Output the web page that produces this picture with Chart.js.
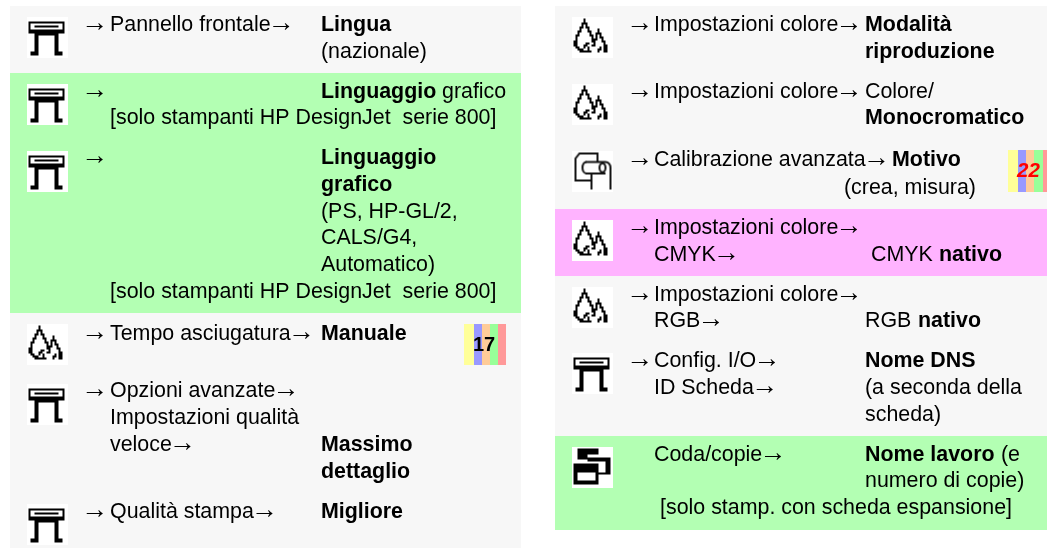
<!DOCTYPE html>
<html>
<head>
<meta charset="utf-8">
<title>Pannello frontale</title>
<script src="https://cdn.jsdelivr.net/npm/chart.js@4"></script>
<style>
  html, body { margin: 0; padding: 0; background: #fff; }
  #wrap { width: 1047px; height: 548px; }
</style>
</head>
<body>
<div id="wrap"><canvas id="page"></canvas></div>
<script>
// sfondi delle righe
const bandLeft = [10, 10, 10, 555, 555, 555, 555];
const bandRight = [521, 521, 521, 1047, 1047, 1047, 1047];
const bandTop = [6, 73, 313, 6, 209, 276, 436];
const bandBottom = [73, 313, 548, 209, 276, 436, 530];
const bandColor = ["#f7f7f7", "#b3ffb3", "#f7f7f7", "#f7f7f7", "#ffb3ff", "#f7f7f7", "#b3ffb3"];

// tacche colorate (17 e 22)
const swatchColors = ["#ffff99", "#9999ff", "#ffcc99", "#99ff99", "#ff9999"];
const swatch17Edges = [464, 474, 482, 490, 498, 506];
const swatch22Edges = [1008, 1018, 1026, 1034, 1043, 1047];
const swatch17Range = [324, 365];
const swatch22Range = [150, 192];

// icone
const iconKind = ["printer", "printer", "printer", "drops", "printer", "printer",
  "drops", "drops", "calib", "drops", "dropsSoft", "printer", "queue"];
const iconX = [47, 47, 47, 47, 47, 47, 592, 592, 592, 592, 592, 592, 592];
const iconY = [37, 104, 171, 344, 404, 524, 37, 104, 171, 240, 307, 373, 467];

// testi
const labelText = [
  "→", "Pannello frontale→", "Lingua", "(nazionale)",
  "→", "Linguaggio", "grafico", "[solo stampanti HP DesignJet  serie 800]",
  "→", "Linguaggio", "grafico", "(PS, HP-GL/2,", "CALS/G4,", "Automatico)", "[solo stampanti HP DesignJet  serie 800]",
  "→", "Tempo asciugatura→", "Manuale",
  "→", "Opzioni avanzate→", "Impostazioni qualità", "veloce→", "Massimo", "dettaglio",
  "→", "Qualità stampa→", "Migliore",
  "→", "Impostazioni colore→", "Modalità", "riproduzione",
  "→", "Impostazioni colore→", "Colore/", "Monocromatico",
  "→", "Calibrazione avanzata→", "Motivo", "(crea, misura)",
  "→", "Impostazioni colore→", "CMYK→", "CMYK", "nativo",
  "→", "Impostazioni colore→", "RGB→", "RGB", "nativo",
  "→", "Config. I/O→", "ID Scheda→", "Nome DNS", "(a seconda della", "scheda)",
  "Coda/copie→", "Nome lavoro", "(e", "numero di copie)", "[solo stamp. con scheda espansione]"
];
const labelX = [
  84, 110, 321, 321,
  84, 321, 442, 110,
  84, 321, 321, 321, 321, 321, 110,
  84, 110, 321,
  84, 110, 110, 110, 321, 321,
  84, 110, 321,
  629, 654, 865, 865,
  629, 654, 865, 865,
  629, 654, 892, 844,
  629, 654, 654, 871, 939,
  629, 654, 654, 865, 918,
  629, 654, 654, 865, 865, 865,
  654, 865, 1001, 865, 660
];
const labelY = [
  31, 31, 31, 58,
  98, 98, 98, 124,
  164, 164, 191, 218, 244, 271, 298,
  340, 340, 340,
  397, 397, 424, 451, 451, 478,
  518, 518, 518,
  31, 31, 31, 58,
  98, 98, 98, 124,
  166, 166, 166, 194,
  234, 234, 261, 261, 261,
  301, 301, 327, 327, 327,
  367, 367, 394, 367, 394, 421,
  461, 461, 461, 487, 514
];
const labelBold = [
  0, 0, 1, 0,
  0, 1, 0, 0,
  0, 1, 1, 0, 0, 0, 0,
  0, 0, 1,
  0, 0, 0, 0, 1, 1,
  0, 0, 1,
  0, 0, 1, 1,
  0, 0, 0, 1,
  0, 0, 1, 0,
  0, 0, 0, 0, 1,
  0, 0, 0, 0, 1,
  0, 0, 0, 1, 0, 0,
  0, 1, 0, 0, 0
];

const printerBits = [
  "##################",
  "#................#",
  "#..############..#",
  "#................#",
  "##################",
  "##################",
  "...############...",
  "...##........##...",
  "...##........##...",
  "...##........##...",
  "...##........##...",
  "...##........##...",
  "...##........##...",
  "...##........##...",
  "...##........##...",
  ".####........####.",
  ".####........####."
];
const dropsBits = [
  ".....#............",
  ".....#............",
  "....###...........",
  "....#.#...........",
  "...##.##..........",
  "...#...#....#.....",
  "..##...##...#.....",
  "..#.....#..###....",
  ".##.....##.#.#....",
  ".#.......#.#.##...",
  ".#.......###..#...",
  "##.......##...##..",
  "##....##..#....#..",
  "##...##..##....##.",
  ".##..#.#.....#.##.",
  "..###..#....##.##.",
  "...######...#..##."
];

// icona su un canvas a parte, usata come pointStyle
function makeIcon(kind) {
  const c = document.createElement("canvas");
  c.width = 41;
  c.height = 41;
  const g = c.getContext("2d");
  g.fillStyle = "#fff";
  g.fillRect(0, 0, 41, 41);
  g.fillStyle = "#000";
  g.strokeStyle = "#111";
  if (kind == "printer" || kind == "drops" || kind == "dropsSoft") {
    const bits = kind == "printer" ? printerBits : dropsBits;
    if (kind == "dropsSoft") g.filter = "blur(0.5px)";
    bits.forEach((row, r) => {
      for (let i = 0; i < row.length; i++) {
        if (row[i] == "#") g.fillRect(2 + i * 2, (kind == "printer" ? 5 : 2) + r * 2, 2, 2);
      }
    });
  } else if (kind == "calib") {
    g.filter = "blur(0.4px)";
    g.lineWidth = 2;
    g.beginPath();
    g.moveTo(26, 11); g.lineTo(26, 3); g.lineTo(8, 3); g.lineTo(4, 8); g.lineTo(4, 30); g.lineTo(20, 30);
    g.moveTo(20, 24); g.lineTo(20, 39);
    g.moveTo(14, 11.5); g.lineTo(34, 11.5);
    g.moveTo(14, 23); g.lineTo(34, 23);
    g.moveTo(39, 17); g.lineTo(39, 39);
    g.stroke();
    g.beginPath(); g.ellipse(15, 17.2, 4, 5.7, 0, Math.PI / 2, Math.PI * 1.5); g.stroke();
    g.beginPath(); g.ellipse(31, 17.2, 3, 4.5, 0, 0, Math.PI * 2); g.stroke();
    g.beginPath(); g.ellipse(34, 17.2, 5, 5.7, 0, -Math.PI / 2, 0); g.stroke();
  } else {
    g.filter = "blur(0.4px)";
    g.fillRect(6, 2, 21, 6);
    g.fillRect(6, 8, 10, 5);
    g.fillRect(16, 11, 23, 4);
    g.fillRect(34, 13, 5, 15);
    g.fillRect(27, 26, 12, 2);
    g.fillRect(2, 17, 25, 21);
    g.fillStyle = "#fff";
    g.fillRect(6, 26, 18, 8);
  }
  return c;
}

const bandSets = bandLeft.map((left, i) => ({
  data: [{ x: left, y: bandTop[i] }, { x: bandRight[i], y: bandTop[i] }],
  showLine: true,
  borderWidth: 0,
  pointRadius: 0,
  order: 3,
  fill: { target: { value: bandBottom[i] }, above: bandColor[i], below: bandColor[i] },
}));

function stripeSets(edges, range) {
  return swatchColors.map((color, i) => ({
    data: [{ x: edges[i], y: range[0] }, { x: edges[i + 1], y: range[0] }],
    showLine: true,
    borderWidth: 0,
    pointRadius: 0,
    order: 2,
    fill: { target: { value: range[1] }, above: color, below: color },
  }));
}

const iconSet = {
  data: iconX.map((x, i) => ({ x: x, y: iconY[i] })),
  showLine: false,
  pointRadius: 20,
  pointStyle: iconKind.map(makeIcon),
  order: 1,
};

// scrive i testi sopra le serie, le frecce un po' piu grandi
const textLayer = {
  id: "textLayer",
  afterDatasetsDraw(chart) {
    const { ctx, scales } = chart;
    ctx.save();
    ctx.textBaseline = "alphabetic";
    ctx.textAlign = "left";
    ctx.fillStyle = "#000";
    labelText.forEach((t, i) => {
      const font = (labelBold[i] ? "bold " : "") + '21.4px "Liberation Sans"';
      let x = scales.x.getPixelForValue(labelX[i]);
      const y = scales.y.getPixelForValue(labelY[i]);
      t.split(/(→)/).forEach((piece) => {
        if (!piece) return;
        if (piece == "→") {
          ctx.font = '27px "Liberation Sans"';
          ctx.fillText(piece, x - 3, y - 0.5);
          x += 20;
        } else {
          ctx.font = font;
          ctx.fillText(piece, x, y);
          x += ctx.measureText(piece).width;
        }
      });
    });
    ctx.font = 'bold 20px "Liberation Sans"';
    ctx.fillText("17", scales.x.getPixelForValue(473), scales.y.getPixelForValue(351));
    ctx.font = 'italic bold 20.5px "Liberation Sans"';
    ctx.fillStyle = "#ff0000";
    ctx.fillText("22", scales.x.getPixelForValue(1017), scales.y.getPixelForValue(177));
    ctx.restore();
  },
};

new Chart(document.getElementById("page"), {
  type: "scatter",
  data: {
    datasets: [iconSet, ...stripeSets(swatch17Edges, swatch17Range), ...stripeSets(swatch22Edges, swatch22Range), ...bandSets],
  },
  options: {
    responsive: true,
    maintainAspectRatio: false,
    animation: false,
    layout: { padding: 0, autoPadding: false },
    events: [],
    plugins: { legend: { display: false }, tooltip: { enabled: false } },
    scales: {
      x: { type: "linear", min: 0, max: 1047, display: false },
      y: { type: "linear", min: 0, max: 548, reverse: true, display: false },
    },
  },
  plugins: [textLayer],
});
</script>
</body>
</html>
